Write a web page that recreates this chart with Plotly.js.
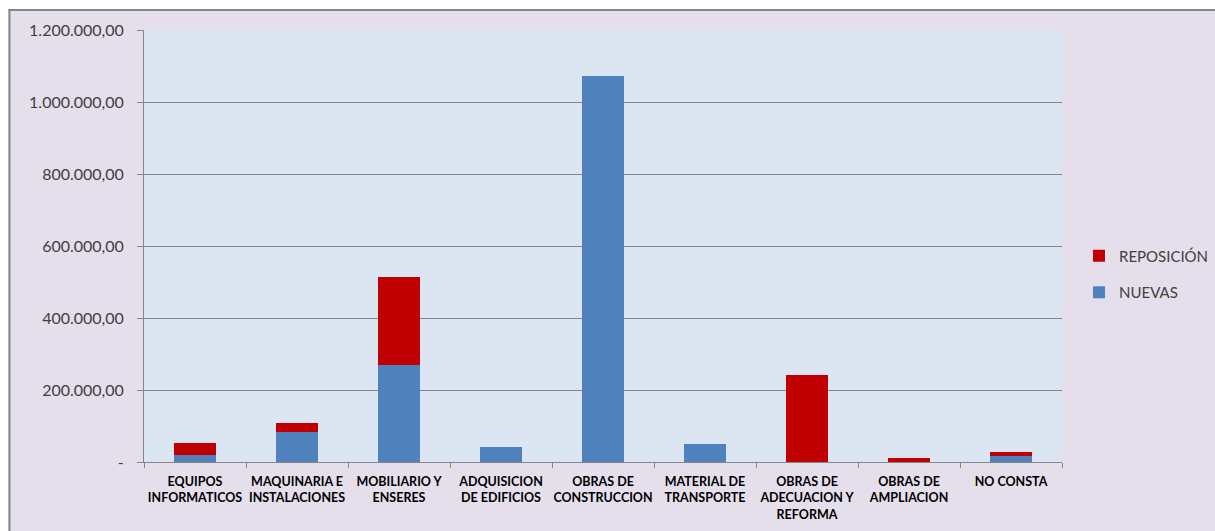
<!DOCTYPE html>
<html>
<head>
<meta charset="utf-8">
<script src="https://cdn.plot.ly/plotly-3.0.1.min.js"></script>
<style>html,body{margin:0;padding:0;background:#fff;}#chart{width:1215px;height:531px;}</style>
</head>
<body>
<div id="chart"></div>
<script>
var categories = ["EQUIPOS<br>INFORMATICOS","MAQUINARIA E<br>INSTALACIONES","MOBILIARIO Y<br>ENSERES","ADQUISICION<br>DE EDIFICIOS","OBRAS DE<br>CONSTRUCCION","MATERIAL DE<br>TRANSPORTE","OBRAS DE<br>ADECUACION Y<br>REFORMA","OBRAS DE<br>AMPLIACION","NO CONSTA"];
var nuevas = [19500, 84000, 269000, 42000, 1072000, 50000, 0, 0, 17500];
var reposicion = [33500, 24000, 245000, 0, 0, 0, 242000, 11000, 11000];
var yTickVals = [0, 200000, 400000, 600000, 800000, 1000000, 1200000];
var yTickText = ["-", "200.000,00", "400.000,00", "600.000,00", "800.000,00", "1.000.000,00", "1.200.000,00"];

var traces = [
  {type:'bar', name:'NUEVAS', x:categories, y:nuevas, marker:{color:'#4F81BD'}, legendgroup:'a', legendrank:2},
  {type:'bar', name:'REPOSICIÓN', x:categories, y:reposicion, marker:{color:'#C00000'}, legendgroup:'b', legendrank:1}
];

var layout = {
  width:1215, height:531,
  margin:{l:144, r:153, t:30, b:69, pad:0, autoexpand:false},
  paper_bgcolor:'#E5DFEC',
  plot_bgcolor:'#DCE6F2',
  barmode:'stack',
  bargap:0.58,
  showlegend:true,
  legend:{x:1.0185, xanchor:'left', y:0.435, yanchor:'middle', traceorder:'grouped', tracegroupgap:14,
          font:{family:'Lato, "Open Sans", sans-serif', size:15, color:'#404040'}, bgcolor:'rgba(0,0,0,0)', itemwidth:30},
  font:{family:'Lato, "Open Sans", sans-serif', color:'#404040'},
  xaxis:{type:'category', tickson:'boundaries', ticks:'outside', ticklen:5, tickcolor:'#868686',
         showline:true, linecolor:'#868686', linewidth:1, showgrid:false, ticklabelstandoff:8,
         tickfont:{family:'Lato, "Open Sans", sans-serif', size:12.5, color:'#000', weight:'bold'}, tickangle:0, automargin:false},
  yaxis:{range:[0,1200000], tickvals:yTickVals, ticktext:yTickText, ticks:'outside', ticklen:6, tickcolor:'#868686',
         showline:true, linecolor:'#868686', linewidth:1, showgrid:true, gridcolor:'#868686', gridwidth:1, ticklabelstandoff:10,
         zeroline:false, tickfont:{family:'Lato, "Open Sans", sans-serif', size:16, color:'#404040'}, automargin:false},
  shapes:[
    {type:'rect', xref:'paper', yref:'paper', x0:-0.17, x1:1.2, y0:1.0475, y1:1.08, fillcolor:'#FFFFFF', line:{width:0}},
    {type:'rect', xref:'paper', yref:'paper', x0:-0.17, x1:-0.1476, y0:-0.17, y1:1.08, fillcolor:'#FFFFFF', line:{width:0}},
    {type:'line', xref:'paper', yref:'paper', x0:-0.1476, x1:1.2, y0:1.0463, y1:1.0463, line:{color:'#868686', width:2}},
    {type:'line', xref:'paper', yref:'paper', x0:-0.1466, x1:-0.1466, y0:-0.17, y1:1.0475, line:{color:'#868686', width:2}}
  ]
};

Plotly.newPlot('chart', traces, layout, {displayModeBar:false, staticPlot:true});
</script>
</body>
</html>
